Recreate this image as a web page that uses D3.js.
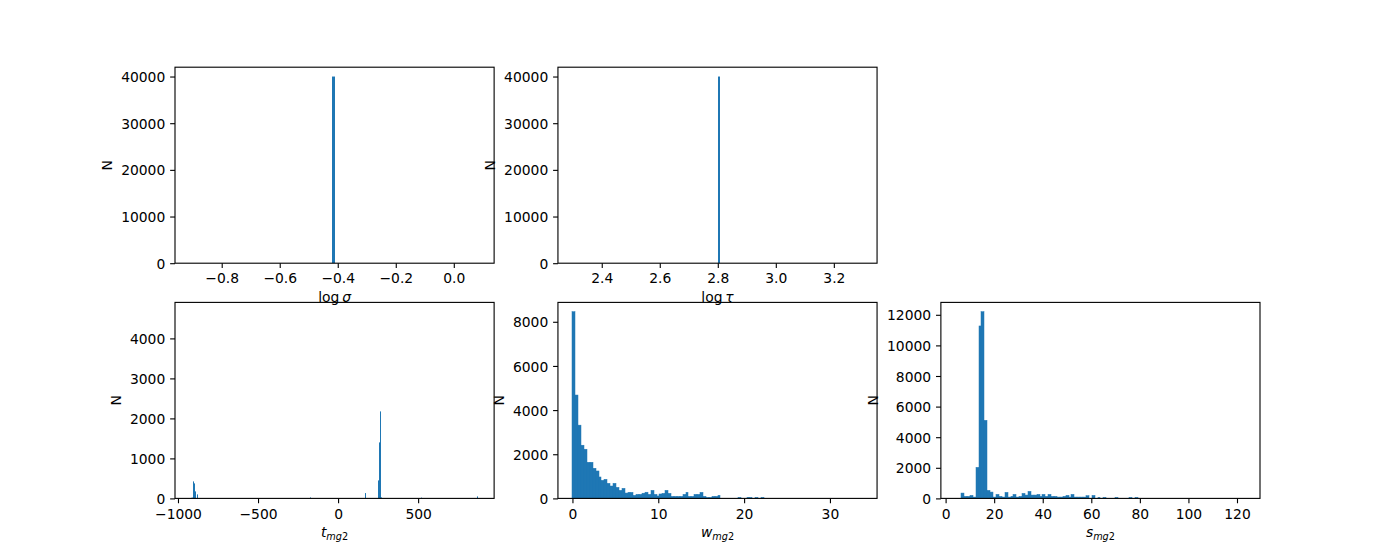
<!DOCTYPE html>
<html><head><meta charset="utf-8">
<script src="https://cdn.jsdelivr.net/npm/d3@7"></script>
<style>html,body{margin:0;padding:0;background:#fff;} svg{display:block;} text{font-family:"DejaVu Sans",sans-serif;}</style>
</head><body><div id="chart"></div>
<script>
// ---------------- data ----------------
// log sigma
const sigmaRange = [-0.911, 0.089];
const sigmaBinWidth = 0.01;
const sigmaBinLeft = [-0.421];
const sigmaCounts = [40000];
const sigmaXTicks = [-0.8, -0.6, -0.4, -0.2, 0.0];
const sigmaYTicks = [0, 10000, 20000, 30000, 40000];

// log tau
const tauRange = [2.299, 3.299];
const tauBinWidth = 0.01;
const tauBinLeft = [2.799];
const tauCounts = [40000];
const tauXTicks = [2.4, 2.6, 2.8, 3.0, 3.2];
const tauYTicks = [0, 10000, 20000, 30000, 40000];

// t_mg2 (non-empty bins only)
const tRange = [-928, 884];
const tBinWidth = 6.04;
const tBinLeft = [-915.9, -909.9, -903.8, -897.8, -891.8, -879.7, -173.0, 165.2, 249.8, 255.8, 261.9, 267.9, 515.6, 865.9];
const tCounts  = [15, 20, 425, 375, 175, 100, 25, 133, 450, 1400, 2175, 25, 20, 50];
const tYMax = 4900;
const tXTicks = [-1000, -500, 0, 500];
const tYTicks = [0, 1000, 2000, 3000, 4000];

// w_mg2 (100 bins)
const wRange = [0, 33.8];
const wCounts = [8455, 4682, 3318, 2409, 2227, 1636, 1636, 1364, 1242, 970,
                 818, 864, 682, 561, 682, 500, 364, 455, 242, 273,
                 273, 136, 182, 182, 235, 280, 182, 364, 182, 110,
                 200, 227, 364, 227, 91, 91, 91, 91, 182, 273,
                 91, 91, 182, 182, 273, 91, 45, 45, 91, 91,
                 136, 0, 0, 0, 0, 0, 0, 45, 0, 0,
                 45, 45, 0, 45, 0, 45, 0, 0, 0, 0,
                 0, 0, 0, 0, 0, 0, 0, 0, 0, 0,
                 0, 0, 0, 0, 0, 0, 0, 0, 0, 0,
                 0, 0, 0, 0, 0, 0, 0, 0, 0, 2];
const wXTicks = [0, 10, 20, 30];
const wYTicks = [0, 2000, 4000, 6000, 8000];

// s_mg2 (100 bins)
const sRange = [4.03, 123.5];
const sCounts = [5, 0, 349, 131, 131, 196, 87, 2027, 11270, 12200,
                 5101, 523, 414, 87, 262, 131, 87, 392, 87, 131,
                 262, 87, 131, 327, 218, 458, 218, 218, 262, 131,
                 262, 131, 262, 131, 131, 87, 87, 131, 196, 87,
                 262, 87, 87, 87, 87, 174, 0, 196, 0, 65,
                 0, 65, 0, 0, 0, 65, 0, 0, 0, 0,
                 65, 0, 65, 0, 0, 0, 0, 0, 0, 0,
                 0, 0, 0, 0, 0, 0, 0, 0, 0, 0,
                 0, 0, 0, 0, 0, 0, 0, 0, 0, 0,
                 0, 0, 0, 0, 0, 0, 0, 0, 0, 2];
const sXTicks = [0, 20, 40, 60, 80, 100, 120];
const sYTicks = [0, 2000, 4000, 6000, 8000, 10000, 12000];

// ---------------- layout ----------------
const W = 1400, H = 560;
const FS = 13.89, TL = 4.86, PAD = 4.86, LW = 1.11;
const BLUE = "#1f77b4";
const figL = 0.125 * W, figR = 0.9 * W, figT = (1 - 0.88) * H, figB = (1 - 0.11) * H;
const pw = (figR - figL) / (3 + 2 * 0.2), ph = (figB - figT) / (2 + 0.2);
function panelPos(r, c) { return { x: figL + c * pw * 1.2, y: figT + r * ph * 1.2 }; }

const svg = d3.select("#chart").append("svg").attr("width", W).attr("height", H);
svg.append("rect").attr("width", W).attr("height", H).attr("fill", "#fff");

const minus = s => s.replace(/-/g, "\u2212");
const f1 = v => minus(d3.format(".1f")(v));
const fd = v => minus(d3.format("d")(v));

const uniformLeft = (range, n) => d3.range(n).map(i => range[0] + i * (range[1] - range[0]) / n);

const panels = [
  { id: 0, row: 0, col: 0, range: sigmaRange, left: sigmaBinLeft, width: sigmaBinWidth, counts: sigmaCounts,
    xTicks: sigmaXTicks, yTicks: sigmaYTicks, fmt: f1,
    label: [{ t: "log" }, { t: "\u2009" }, { t: "\u03c3", it: true }] },
  { id: 1, row: 0, col: 1, range: tauRange, left: tauBinLeft, width: tauBinWidth, counts: tauCounts,
    xTicks: tauXTicks, yTicks: tauYTicks, fmt: f1,
    label: [{ t: "log" }, { t: "\u2009" }, { t: "\u03c4", it: true }] },
  { id: 2, row: 1, col: 0, range: tRange, left: tBinLeft, width: tBinWidth, counts: tCounts, yMax: tYMax,
    xTicks: tXTicks, yTicks: tYTicks, fmt: fd,
    label: [{ t: "t", it: true }, { t: "mg", it: true, sub: true }, { t: "2", sub: true }] },
  { id: 3, row: 1, col: 1, range: wRange, left: uniformLeft(wRange, wCounts.length),
    width: (wRange[1] - wRange[0]) / wCounts.length, counts: wCounts,
    xTicks: wXTicks, yTicks: wYTicks, fmt: fd,
    label: [{ t: "w", it: true }, { t: "mg", it: true, sub: true }, { t: "2", sub: true }] },
  { id: 4, row: 1, col: 2, range: sRange, left: uniformLeft(sRange, sCounts.length),
    width: (sRange[1] - sRange[0]) / sCounts.length, counts: sCounts,
    xTicks: sXTicks, yTicks: sYTicks, fmt: fd,
    label: [{ t: "s", it: true }, { t: "mg", it: true, sub: true }, { t: "2", sub: true }] }
];

// panel backgrounds first
panels.forEach(p => {
  const pos = panelPos(p.row, p.col);
  svg.append("rect").attr("x", pos.x).attr("y", pos.y).attr("width", pw).attr("height", ph).attr("fill", "#fff");
});

function drawPanel(p) {
  const pos = panelPos(p.row, p.col);
  const span = p.range[1] - p.range[0];
  const xAbs = d3.scaleLinear().domain([p.range[0] - 0.05 * span, p.range[1] + 0.05 * span]).range([pos.x, pos.x + pw]);
  const ymax = p.yMax || d3.max(p.counts) * 1.05;
  const yAbs = d3.scaleLinear().domain([0, ymax]).range([pos.y + ph, pos.y]);

  const clipId = "clip" + p.id;
  svg.append("clipPath").attr("id", clipId).append("rect")
    .attr("x", pos.x).attr("y", pos.y).attr("width", pw).attr("height", ph);
  const bars = p.left.map((l, i) => ({ x0: l, x1: l + p.width, n: p.counts[i] })).filter(d => d.n > 0);
  const sx = v => Math.round(xAbs(v));
  const many = bars.length > 20;
  svg.append("g").attr("clip-path", `url(#${clipId})`)
    .selectAll("rect").data(bars).join("rect")
    .attr("x", d => sx(d.x0)).attr("width", d => Math.max(1, sx(d.x1) - sx(d.x0)))
    .attr("y", d => yAbs(d.n)).attr("height", d => yAbs(0) - yAbs(d.n))
    .attr("fill", BLUE)
    .attr("stroke", many ? BLUE : "none").attr("stroke-width", 0.5);

  const g = svg.append("g").attr("transform", `translate(${pos.x},${pos.y})`);
  const x = xAbs.copy().range([0, pw]);
  const y = yAbs.copy().range([ph, 0]);

  // x axis
  const xa = g.append("g").attr("transform", `translate(0,${ph})`)
    .call(d3.axisBottom(x).tickValues(p.xTicks).tickSize(TL).tickPadding(PAD).tickFormat(p.fmt).tickSizeOuter(0));
  xa.select(".domain").remove();
  xa.attr("font-size", FS).attr("font-family", "DejaVu Sans");
  xa.selectAll(".tick line").attr("stroke", "#000").attr("stroke-width", LW);
  xa.selectAll(".tick text").attr("y", 20.3).attr("dy", null).attr("fill", "#000");

  // y axis
  const ya = g.append("g")
    .call(d3.axisLeft(y).tickValues(p.yTicks).tickSize(TL).tickPadding(PAD).tickFormat(fd).tickSizeOuter(0));
  ya.select(".domain").remove();
  ya.attr("font-size", FS).attr("font-family", "DejaVu Sans");
  ya.selectAll(".tick line").attr("stroke", "#000").attr("stroke-width", LW);
  ya.selectAll(".tick text").attr("dy", "0.3645em").attr("fill", "#000");

  // frame
  g.append("rect").attr("width", pw).attr("height", ph)
    .attr("fill", "none").attr("stroke", "#000").attr("stroke-width", LW);

  // y label
  const bb = ya.node().getBBox();
  g.append("text").attr("transform", `translate(${bb.x - 8.9},${ph / 2}) rotate(-90)`)
    .attr("text-anchor", "middle").attr("font-size", FS).attr("fill", "#000").text("N");

  // x label
  const xl = g.append("text").attr("x", pw / 2).attr("y", ph + 38.5)
    .attr("text-anchor", "middle").attr("font-size", FS).attr("fill", "#000");
  let inSub = false;
  p.label.forEach(part => {
    const ts = xl.append("tspan").text(part.t);
    if (part.it) ts.attr("font-style", "italic");
    if (part.sub) { ts.attr("font-size", FS * 0.7); if (!inSub) { ts.attr("dy", 3); inSub = true; } }
  });
}

panels.forEach(drawPanel);
</script>
</body></html>
